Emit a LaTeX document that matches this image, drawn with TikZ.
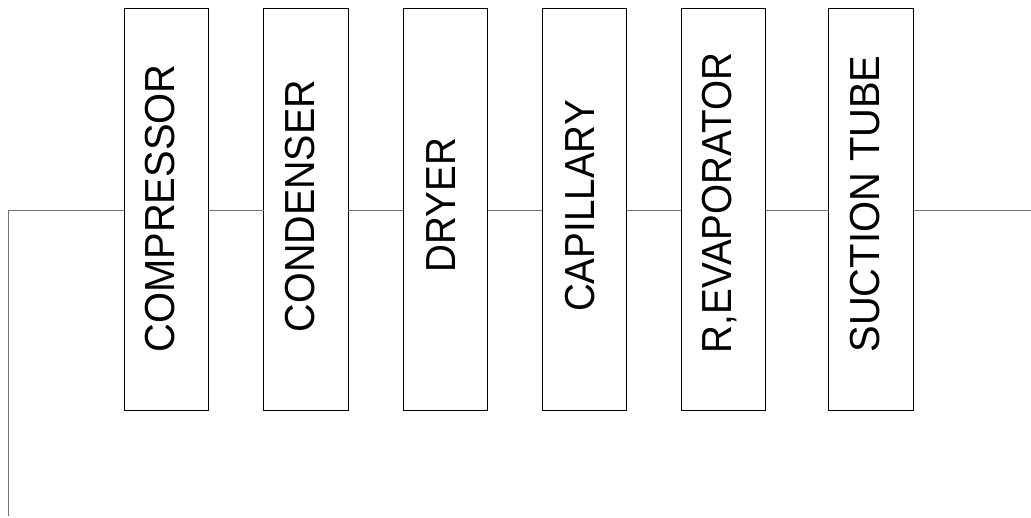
\documentclass[tikz,border=0pt]{standalone}
\usepackage{fontspec}
\setmainfont{Liberation Sans}
\newcommand{\narrowtext}[2][0.92]{\scalebox{#1}[1]{#2}}
\begin{document}
\begin{tikzpicture}[x=1pt,y=-1pt,
  unitbox/.style={draw=black, line width=0.9pt, rectangle, minimum width=84.5pt, minimum height=402pt, inner sep=0pt, outer sep=0pt},
  conn/.style={draw=black!55, line width=1pt},
  lbl/.style={rotate=90, anchor=base, inner sep=0pt, font=\fontsize{42}{42}\selectfont}]
\useasboundingbox (0,0) rectangle (1031,517);
\foreach \n/\x in {b1/124, b2/263.7, b3/403.3, b4/542.3, b5/681, b6/828.7}{
  \node[unitbox, anchor=north west] (\n) at (\x,8.5) {};
}
\node[lbl] (t1) at (124+50,208.5) {\narrowtext[0.95]{COMPRESSOR}};
\node[lbl] (t2) at (263.7+51,206) {\narrowtext[0.94]{CONDENSER}};
\node[lbl] (t3) at (403.3+52,205) {\narrowtext{DRYER}};
\node[lbl] (t4) at (542.3+52,206) {\narrowtext{CAPILLARY}};
\node[lbl] (t5) at (681+50,203) {\narrowtext{R,EVAPORATOR}};
\node[lbl] (t6) at (828.7+51,204) {\narrowtext[0.95]{SUCTION TUBE}};
\coordinate (start) at (8,516);
\coordinate (corner) at (8,210);
\coordinate (finish) at (1031,210);
\draw[conn] (start) -- (corner) -- (corner -| b1.west);
\draw[conn] (b1.east |- corner) -- (b2.west |- corner);
\draw[conn] (b2.east |- corner) -- (b3.west |- corner);
\draw[conn] (b3.east |- corner) -- (b4.west |- corner);
\draw[conn] (b4.east |- corner) -- (b5.west |- corner);
\draw[conn] (b5.east |- corner) -- (b6.west |- corner);
\draw[conn] (b6.east |- corner) -- (finish);
\end{tikzpicture}
\end{document}
